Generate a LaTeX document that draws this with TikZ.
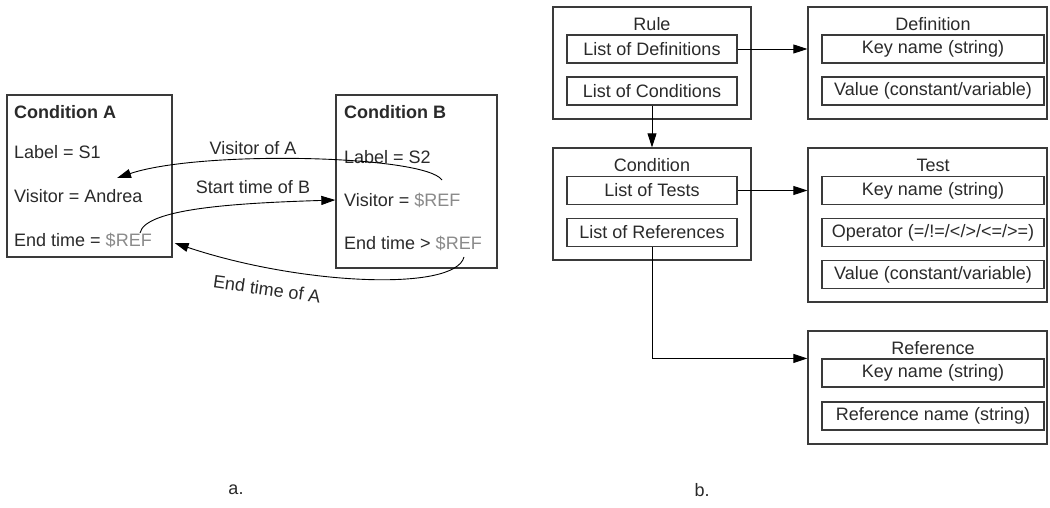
\documentclass[tikz,border=0pt]{standalone}
\usepackage{fontspec}
\setmainfont{Liberation Sans}
\usetikzlibrary{arrows.meta,calc}
\definecolor{txt}{HTML}{2A2A2A}
\definecolor{refc}{HTML}{8A8A8A}
\definecolor{edge}{HTML}{3A3A3A}
\begin{document}
\begin{tikzpicture}[x=1pt,y=-1pt,
  font=\fontsize{18}{21}\selectfont,
  outer/.style={draw=edge, line width=1.3pt, inner sep=0pt},
  inner/.style={draw=edge, line width=1.1pt, inner sep=0pt, minimum height=28pt, text=txt},
  ttl/.style={text=txt, inner sep=0pt},
  lt/.style={text=txt, anchor=west, inner sep=0pt},
  conn/.style={draw=black, line width=0.9pt, -{Triangle[length=14pt,width=9pt]}},
  lab/.style={text=txt, inner sep=0pt}]
\useasboundingbox (0,0) rectangle (1050,508);
\fill[white] (0,0) rectangle (1050,508);

% ---------- a. ----------
\node[outer, minimum width=165pt, minimum height=162pt] (ca) at (89.5,176) {};
\node[outer, minimum width=161pt, minimum height=173pt] (cb) at (416.5,181.5) {};
\node[lt, font=\fontsize{18}{21}\selectfont\bfseries] (cat) at (14,112) {Condition A};
\node[lt] (la) at (14,152) {Label = S1};
\node[lt] (va) at (14,196) {Visitor = Andrea};
\node[lt] (ea) at (14,240) {End time = \textcolor{refc}{\$REF}};
\node[lt, font=\fontsize{18}{21}\selectfont\bfseries] (cbt) at (344,112) {Condition B};
\node[lt] (lb) at (344,157) {Label = S2};
\node[lt] (vb) at (344,200) {Visitor = \textcolor{refc}{\$REF}};
\node[lt] (eb) at (344,243) {End time > \textcolor{refc}{\$REF}};

\coordinate (vbs) at (442,180);
\coordinate (vae) at (117,178);
\coordinate (eas) at (140,233);
\coordinate (ebs) at (464,257);
\draw[conn] (vbs) .. controls (425,155) and (200,150) .. (vae);
\draw[conn] (eas) .. controls (145,208) and (240,203) .. (cb.west |- vb.center);
\draw[conn] (ebs) .. controls (455,292) and (300,285) .. ($(ca.east |- ea.center)+(2,3)$);
\node[lab] (l1) at (253,148) {Visitor of A};
\node[lab] (l2) at (253,187) {Start time of B};
\node[lab, rotate=-8] (l3) at (267,289) {End time of A};

% ---------- b. ----------
\node[outer, minimum width=198pt, minimum height=112pt] (rule) at (652,63) {};
\node[outer, minimum width=239pt, minimum height=112pt] (def) at (927.5,63) {};
\node[outer, minimum width=198pt, minimum height=112pt] (cond) at (652,204) {};
\node[outer, minimum width=239pt, minimum height=154pt] (test) at (927.5,225) {};
\node[outer, minimum width=239pt, minimum height=113pt] (ref) at (927.5,387.5) {};

\node[ttl] (rulet) at (652,24) {Rule};
\node[inner, minimum width=170pt] (lod) at (652,49) {List of Definitions};
\node[inner, minimum width=170pt] (loc) at (652,91) {List of Conditions};

\node[ttl] (deft) at (933,24) {Definition};
\node[inner, minimum width=222pt] (dkey) at (933,49) {Key name (string)};
\node[inner, minimum width=222pt] (dval) at (933,91) {Value (constant/variable)};

\node[ttl] (condt) at (652,165) {Condition};
\node[inner, minimum width=170pt] (lot) at (652,190.5) {List of Tests};
\node[inner, minimum width=170pt] (lor) at (652,232.5) {List of References};

\node[ttl] (testt) at (933,165) {Test};
\node[inner, minimum width=222pt] (tkey) at (933,190.5) {Key name (string)};
\node[inner, minimum width=222pt] (top) at (933,232.5) {Operator (=/!=/</>/<=/>=)};
\node[inner, minimum width=222pt] (tval) at (933,274.5) {Value (constant/variable)};

\node[ttl] (reft) at (933,348) {Reference};
\node[inner, minimum width=222pt] (rkey) at (933,373) {Key name (string)};
\node[inner, minimum width=222pt] (rname) at (933,416) {Reference name (string)};

\draw[conn] (lod.east) -- (def.west |- lod.east);
\draw[conn] (loc.south) -- (cond.north);
\draw[conn] (lot.east) -- (test.west |- lot.east);
\draw[conn] (lor.south) |- (ref.west |- rkey.north);

\node[text=txt] (capa) at (236,490) {a.};
\node[text=txt] (capb) at (702,490) {b.};
\end{tikzpicture}
\end{document}
